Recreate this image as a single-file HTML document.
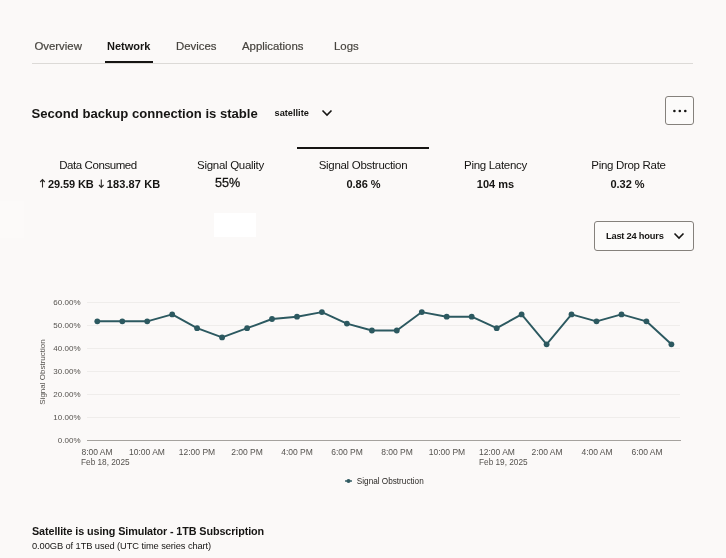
<!DOCTYPE html>
<html><head><meta charset="utf-8">
<style>
html,body{margin:0;padding:0;}
body{width:726px;height:558px;background:#fbf9f8;font-family:"Liberation Sans",sans-serif;color:#161513;position:relative;overflow:hidden;}
.abs{position:absolute;white-space:nowrap;}
.tab{position:absolute;top:39px;font-size:11.4px;color:#47443f;-webkit-text-stroke:0.2px #47443f;line-height:14px;white-space:nowrap;}
.tab.act{-webkit-text-stroke:0;color:#161513;font-weight:bold;font-size:11px;}
.lbl{position:absolute;top:158px;width:133px;text-align:center;font-size:11.5px;line-height:14px;color:#161513;letter-spacing:-0.3px;}
.val{position:absolute;top:177px;width:133px;text-align:center;font-size:11px;line-height:14px;font-weight:bold;color:#161513;}
</style></head><body>
<!-- tabs -->
<div class="tab" style="left:34.4px">Overview</div>
<div class="tab act" style="left:107px">Network</div>
<div class="tab" style="left:176px">Devices</div>
<div class="tab" style="left:242px">Applications</div>
<div class="tab" style="left:334px">Logs</div>
<div class="abs" style="left:32px;top:63px;width:661px;height:1px;background:#dcdad7"></div>
<div class="abs" style="left:105px;top:61px;width:48px;height:2px;background:#161513"></div>

<!-- title -->
<div class="abs" style="left:31.5px;top:105px;font-size:13.1px;font-weight:bold;line-height:18px;">Second backup connection is stable</div>
<div class="abs" style="left:274.6px;top:107px;font-size:9.2px;line-height:12px;font-weight:bold;">satellite</div>
<svg class="abs" style="left:321px;top:108px" width="12" height="10" viewBox="0 0 12 10"><path d="M1.5 2.5 L6 7 L10.5 2.5" fill="none" stroke="#161513" stroke-width="1.6"/></svg>
<div class="abs" style="left:665px;top:96px;width:27px;height:27px;border:1px solid #85817c;border-radius:3px;background:#fcfbfa"></div>
<svg class="abs" style="left:665px;top:96px" width="28" height="28"><circle cx="9.4" cy="15" r="1.3" fill="#161513"/><circle cx="14.8" cy="15" r="1.3" fill="#161513"/><circle cx="20.3" cy="15" r="1.3" fill="#161513"/></svg>

<!-- metrics -->
<div class="abs" style="left:297px;top:147px;width:132px;height:2px;background:#161513"></div>
<div class="lbl" style="left:31.5px;letter-spacing:-0.42px">Data Consumed</div>
<svg class="abs" style="left:39px;top:178px" width="68" height="11" fill="none" stroke="#2b2926" stroke-width="1.1"><path d="M3.5 1.6V9.4M1.2 4 3.5 1.6 5.8 4"/><path d="M62.3 1.6V9.4M60 7 62.3 9.4 64.6 7"/></svg>
<div class="val" style="left:48px;width:auto;text-align:left;letter-spacing:-0.1px">29.59 KB</div>
<div class="val" style="left:106.8px;width:auto;text-align:left;letter-spacing:0.1px">183.87 KB</div>
<div class="lbl" style="left:164px">Signal Quality</div>
<div class="val" style="left:161px;font-weight:normal;font-size:12.6px;top:176px;-webkit-text-stroke:0.3px #161513">55%</div>
<div class="lbl" style="left:296.5px">Signal Obstruction</div>
<div class="val" style="left:297px">0.86 %</div>
<div class="lbl" style="left:429px">Ping Latency</div>
<div class="val" style="left:429px">104 ms</div>
<div class="lbl" style="left:562px">Ping Drop Rate</div>
<div class="val" style="left:561px">0.32 %</div>

<div class="abs" style="left:214px;top:213px;width:42px;height:24px;background:#ffffff"></div>
<div class="abs" style="left:0px;top:201px;width:24px;height:37px;background:#fcfaf9"></div>

<!-- dropdown -->
<div class="abs" style="left:594px;top:221px;width:98px;height:28px;border:1px solid #85817c;border-radius:3px;background:#fcfbfa"></div>
<div class="abs" style="left:606px;top:230px;font-size:9.3px;line-height:12px;font-weight:bold;letter-spacing:-0.22px">Last 24 hours</div>
<svg class="abs" style="left:673.4px;top:231.2px" width="12" height="10" viewBox="0 0 12 10"><path d="M1.5 2.5 L6 7 L10.5 2.5" fill="none" stroke="#161513" stroke-width="1.6"/></svg>

<!-- chart -->
<svg class="abs" style="left:0;top:280px" width="726" height="220" font-family="Liberation Sans, sans-serif">
<g stroke="#efedeb" stroke-width="1">
<line x1="87" x2="680" y1="22.5" y2="22.5"/>
<line x1="87" x2="680" y1="45.5" y2="45.5"/>
<line x1="87" x2="680" y1="68.5" y2="68.5"/>
<line x1="87" x2="680" y1="91.5" y2="91.5"/>
<line x1="87" x2="680" y1="114.5" y2="114.5"/>
<line x1="87" x2="680" y1="137.5" y2="137.5"/>
</g>
<line x1="87" x2="681" y1="160.5" y2="160.5" stroke="#a5a29e" stroke-width="1"/>
<g font-size="8" fill="#55524e" text-anchor="end">
<text x="80.5" y="24.9">60.00%</text>
<text x="80.5" y="47.9">50.00%</text>
<text x="80.5" y="70.9">40.00%</text>
<text x="80.5" y="93.9">30.00%</text>
<text x="80.5" y="116.9">20.00%</text>
<text x="80.5" y="139.9">10.00%</text>
<text x="80.5" y="162.9">0.00%</text>
</g>
<text transform="translate(45.2,92) rotate(-90)" font-size="8" fill="#55524e" text-anchor="middle">Signal Obstruction</text>
<g font-size="8.5" fill="#55524e" text-anchor="middle">
<text x="97" y="174.6">8:00 AM</text>
<text x="147" y="174.6">10:00 AM</text>
<text x="197" y="174.6">12:00 PM</text>
<text x="247" y="174.6">2:00 PM</text>
<text x="297" y="174.6">4:00 PM</text>
<text x="347" y="174.6">6:00 PM</text>
<text x="397" y="174.6">8:00 PM</text>
<text x="447" y="174.6">10:00 PM</text>
<text x="497" y="174.6">12:00 AM</text>
<text x="547" y="174.6">2:00 AM</text>
<text x="597" y="174.6">4:00 AM</text>
<text x="647" y="174.6">6:00 AM</text>
</g>
<g font-size="8.25" fill="#55524e">
<text x="81" y="184.8">Feb 18, 2025</text>
<text x="479" y="184.8">Feb 19, 2025</text>
</g>
<g id="series"><polyline fill="none" stroke="#2c5960" stroke-width="1.9" stroke-linejoin="round" points="97.3,41.3 122.3,41.3 147.2,41.3 172.2,34.4 197.1,48.2 222.1,57.4 247.1,48.2 272.0,39.0 297.0,36.7 321.9,32.1 346.9,43.6 371.9,50.5 396.8,50.5 421.8,32.1 446.7,36.7 471.7,36.7 496.7,48.2 521.6,34.4 546.6,64.3 571.5,34.4 596.5,41.3 621.5,34.4 646.4,41.3 671.4,64.3"/>
<g fill="#2c5960"><circle cx="97.3" cy="41.3" r="2.9"/><circle cx="122.3" cy="41.3" r="2.9"/><circle cx="147.2" cy="41.3" r="2.9"/><circle cx="172.2" cy="34.4" r="2.9"/><circle cx="197.1" cy="48.2" r="2.9"/><circle cx="222.1" cy="57.4" r="2.9"/><circle cx="247.1" cy="48.2" r="2.9"/><circle cx="272.0" cy="39.0" r="2.9"/><circle cx="297.0" cy="36.7" r="2.9"/><circle cx="321.9" cy="32.1" r="2.9"/><circle cx="346.9" cy="43.6" r="2.9"/><circle cx="371.9" cy="50.5" r="2.9"/><circle cx="396.8" cy="50.5" r="2.9"/><circle cx="421.8" cy="32.1" r="2.9"/><circle cx="446.7" cy="36.7" r="2.9"/><circle cx="471.7" cy="36.7" r="2.9"/><circle cx="496.7" cy="48.2" r="2.9"/><circle cx="521.6" cy="34.4" r="2.9"/><circle cx="546.6" cy="64.3" r="2.9"/><circle cx="571.5" cy="34.4" r="2.9"/><circle cx="596.5" cy="41.3" r="2.9"/><circle cx="621.5" cy="34.4" r="2.9"/><circle cx="646.4" cy="41.3" r="2.9"/><circle cx="671.4" cy="64.3" r="2.9"/></g></g>
<line x1="345" x2="352" y1="201" y2="201" stroke="#2f5a61" stroke-width="1.4"/>
<circle cx="348.5" cy="201" r="2" fill="#2f5a61"/>
<text x="356.8" y="204" font-size="8.2" fill="#2b2926">Signal Obstruction</text>
</svg>

<!-- footer -->
<div class="abs" style="left:32px;top:524px;font-size:10.8px;letter-spacing:-0.105px;font-weight:bold;line-height:14px;">Satellite is using Simulator - 1TB Subscription</div>
<div class="abs" style="left:32px;top:540px;font-size:9.3px;letter-spacing:-0.09px;line-height:12px;">0.00GB of 1TB used (UTC time series chart)</div>
</body></html>
